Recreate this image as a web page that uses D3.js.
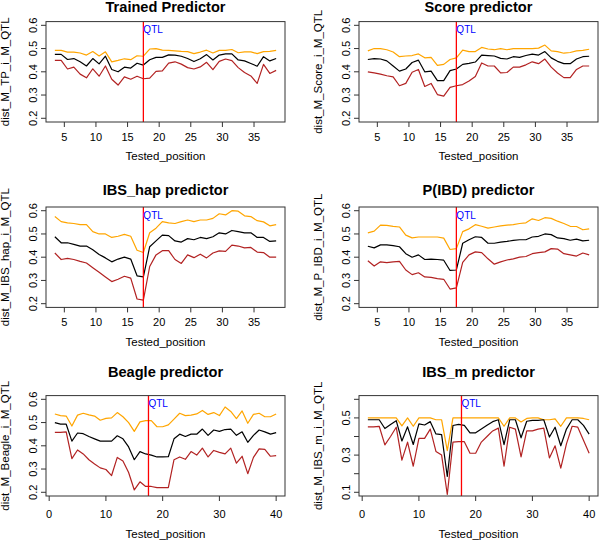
<!DOCTYPE html>
<html lang="en">
<head>
  <meta charset="UTF-8" />
  <title>Predictor distances</title>
  <style>
    body { margin: 0; background: #fff; }
    svg { display: block; font-family: "Liberation Sans", Arial, sans-serif; }
    .title { font-weight: bold; font-size: 14.6px; }
    .tick text { font-size: 11px; }
    .axlab { font-size: 11.5px; }
  </style>
</head>
<body>
  <svg width="600" height="541"></svg>

  <script src="https://d3js.org/d3.v7.min.js"></script>
  <script>
    // positions tested (top rows use 3.5..38.5, bottom row 1..40)
    const posMid = d3.range(3.5, 39, 1);
    const posInt = d3.range(1, 41, 1);
    const qtlPos = 17.5;

    const titles = ["Trained Predictor", "Score predictor", "IBS_hap predictor",
                    "P(IBD) predictor", "Beagle predictor", "IBS_m predictor"];
    const yLabels = ["dist_M_TP_i_M_QTL", "dist_M_Score_i_M_QTL", "dist_M_IBS_hap_i_M_QTL",
                     "dist_M_P_IBD_i_M_QTL", "dist_M_Beagle_i_M_QTL", "dist_M_IBS_m_i_M_QTL"];

    // upper (orange), mean (black), lower (red)
    const tpUpper = [.492,.492,.485,.485,.481,.472,.487,.468,.486,.443,.449,.456,.452,.469,.467,.498,.5,.493,.492,.49,.488,.487,.478,.485,.493,.481,.492,.492,.496,.482,.486,.486,.478,.487,.488,.492];
    const tpMean  = [.475,.475,.453,.457,.443,.425,.457,.434,.467,.41,.4,.42,.416,.437,.429,.452,.462,.462,.473,.472,.467,.457,.444,.456,.474,.451,.472,.477,.477,.451,.447,.436,.424,.465,.447,.457];
    const tpLower = [.449,.449,.412,.42,.39,.374,.413,.381,.425,.368,.343,.378,.368,.381,.37,.373,.402,.404,.437,.443,.433,.418,.412,.421,.441,.409,.445,.455,.448,.418,.397,.382,.35,.432,.393,.406];

    const scoreUpper = [.49,.5,.5,.495,.485,.465,.468,.47,.477,.46,.462,.428,.432,.453,.46,.493,.487,.487,.505,.498,.495,.5,.495,.5,.5,.5,.5,.502,.515,.49,.487,.48,.483,.49,.492,.497];
    const scoreMean  = [.453,.457,.455,.447,.425,.403,.412,.44,.45,.4,.403,.362,.362,.405,.412,.432,.436,.442,.472,.47,.468,.458,.455,.465,.462,.47,.476,.472,.487,.46,.445,.435,.435,.455,.465,.467];
    const scoreLower = [.4,.395,.39,.383,.378,.34,.35,.398,.41,.337,.35,.302,.295,.333,.34,.345,.36,.38,.438,.425,.425,.395,.397,.42,.42,.43,.443,.435,.455,.42,.395,.375,.375,.41,.425,.425];

    const hapUpper = [.575,.553,.548,.545,.54,.54,.51,.5,.5,.485,.49,.498,.49,.43,.42,.505,.525,.553,.548,.545,.553,.56,.553,.56,.56,.567,.587,.582,.6,.598,.578,.575,.557,.552,.535,.54];
    const hapMean  = [.488,.462,.462,.455,.448,.448,.432,.412,.397,.38,.392,.4,.392,.32,.315,.445,.47,.495,.493,.47,.465,.48,.475,.485,.48,.488,.505,.5,.515,.51,.505,.505,.485,.485,.468,.47];
    const hapLower = [.418,.39,.395,.39,.382,.375,.355,.335,.315,.295,.305,.318,.31,.22,.215,.36,.41,.428,.428,.39,.373,.41,.398,.413,.397,.418,.427,.425,.452,.448,.44,.442,.422,.42,.4,.4];

    const ibdUpper = [.505,.512,.538,.537,.533,.53,.495,.483,.487,.487,.487,.487,.482,.433,.437,.51,.522,.54,.533,.525,.53,.535,.538,.54,.545,.548,.565,.558,.57,.567,.555,.545,.533,.532,.518,.522];
    const ibdMean  = [.447,.44,.453,.453,.45,.445,.415,.4,.41,.39,.392,.39,.387,.343,.345,.46,.475,.488,.485,.46,.46,.465,.468,.472,.475,.475,.487,.49,.5,.497,.483,.48,.473,.478,.47,.473];
    const ibdLower = [.385,.362,.38,.377,.38,.382,.345,.325,.333,.315,.313,.308,.305,.263,.268,.378,.41,.423,.42,.393,.37,.38,.388,.393,.4,.403,.415,.42,.423,.437,.435,.415,.41,.405,.418,.41];

    const beagleUpper = [.537,.53,.528,.485,.532,.54,.533,.528,.51,.518,.52,.543,.525,.5,.462,.503,.508,.508,.482,.482,.49,.515,.54,.53,.532,.537,.552,.535,.543,.53,.567,.548,.517,.55,.497,.535,.54,.525,.525,.537];
    const beagleMean  = [.5,.493,.493,.42,.455,.452,.44,.43,.42,.42,.42,.443,.43,.395,.34,.375,.365,.36,.352,.352,.353,.43,.45,.44,.45,.45,.472,.445,.468,.462,.47,.472,.445,.46,.415,.445,.468,.46,.45,.457];
    const beagleLower = [.458,.458,.46,.345,.382,.365,.34,.322,.305,.298,.272,.35,.335,.285,.21,.245,.225,.225,.22,.22,.22,.34,.352,.342,.375,.36,.39,.352,.38,.372,.365,.39,.325,.355,.28,.35,.387,.385,.355,.358];

    const ibsmUpper = [.5,.5,.5,.5,.5,.5,.457,.5,.455,.5,.5,.5,.49,.49,.324,.5,.5,.5,.5,.5,.5,.5,.5,.5,.455,.5,.5,.478,.497,.5,.5,.49,.49,.495,.455,.5,.5,.5,.497,.49];
    const ibsmMean  = [.49,.49,.49,.443,.465,.485,.376,.452,.357,.468,.462,.48,.414,.41,.185,.459,.465,.46,.42,.42,.44,.46,.48,.49,.356,.49,.49,.393,.482,.487,.487,.49,.397,.45,.35,.44,.49,.49,.46,.413];
    const ibsmLower = [.452,.452,.455,.355,.4,.45,.273,.37,.24,.39,.39,.44,.32,.3,.088,.37,.372,.372,.31,.31,.37,.4,.43,.445,.24,.45,.44,.29,.43,.43,.44,.445,.285,.35,.23,.36,.455,.45,.38,.31];

    const panels = [
      { pos: posMid, series: [tpUpper, tpMean, tpLower], yDom: [0.2, 0.6], yTicks: [0.2, 0.3, 0.4, 0.5, 0.6], yLab: [0.2, 0.3, 0.4, 0.5, 0.6], xTicks: [5, 10, 15, 20, 25, 30, 35] },
      { pos: posMid, series: [scoreUpper, scoreMean, scoreLower], yDom: [0.2, 0.6], yTicks: [0.2, 0.3, 0.4, 0.5, 0.6], yLab: [0.2, 0.3, 0.4, 0.5, 0.6], xTicks: [5, 10, 15, 20, 25, 30, 35] },
      { pos: posMid, series: [hapUpper, hapMean, hapLower], yDom: [0.2, 0.6], yTicks: [0.2, 0.3, 0.4, 0.5, 0.6], yLab: [0.2, 0.3, 0.4, 0.5, 0.6], xTicks: [5, 10, 15, 20, 25, 30, 35] },
      { pos: posMid, series: [ibdUpper, ibdMean, ibdLower], yDom: [0.2, 0.6], yTicks: [0.2, 0.3, 0.4, 0.5, 0.6], yLab: [0.2, 0.3, 0.4, 0.5, 0.6], xTicks: [5, 10, 15, 20, 25, 30, 35] },
      { pos: posInt, series: [beagleUpper, beagleMean, beagleLower], yDom: [0.2, 0.6], yTicks: [0.2, 0.3, 0.4, 0.5, 0.6], yLab: [0.2, 0.3, 0.4, 0.5, 0.6], xTicks: [0, 10, 20, 30, 40] },
      { pos: posInt, series: [ibsmUpper, ibsmMean, ibsmLower], yDom: [0.1, 0.6], yTicks: [0.1, 0.2, 0.3, 0.4, 0.5, 0.6], yLab: [0.1, 0.3, 0.5], xTicks: [0, 10, 20, 30, 40] }
    ];

    const colors = ["orange", "black", "#b22222"];

    const colLeft = [46, 359];
    const boxW = 239;
    const rowTop = [21.6, 207, 395.6];
    const boxH = 100.4;
    const titleY = [11.7, 195, 376.7];
    const tickLabOff = [15, 15, 18];
    const xTitleOff = [34, 35, 38];

    const svg = d3.select("svg");

    panels.forEach((p, k) => {
      const r = Math.floor(k / 2), c = k % 2;
      const left = colLeft[c], top = rowTop[r];
      const g = svg.append("g").attr("transform", `translate(${left},${top})`);

      // R style 4% padding around the data range
      const xr = d3.extent(p.pos), xp = (xr[1] - xr[0]) * 0.04;
      const yp = (p.yDom[1] - p.yDom[0]) * 0.04;
      const x = d3.scaleLinear().domain([xr[0] - xp, xr[1] + xp]).range([0, boxW]);
      const y = d3.scaleLinear().domain([p.yDom[0] - yp, p.yDom[1] + yp]).range([boxH, 0]);

      const line = d3.line().x((d, i) => x(p.pos[i])).y(d => y(d));

      p.series.forEach((s, j) => {
        g.append("path")
          .datum(s)
          .attr("d", line)
          .attr("fill", "none")
          .attr("stroke", colors[j])
          .attr("stroke-width", 1.2)
          .attr("stroke-linejoin", "round");
      });

      // QTL marker
      g.append("line")
        .attr("x1", x(qtlPos)).attr("x2", x(qtlPos))
        .attr("y1", 0).attr("y2", boxH)
        .attr("stroke", "red").attr("stroke-width", 1.3);
      g.append("text")
        .attr("x", x(qtlPos)).attr("y", y(0.58))
        .attr("dominant-baseline", "central")
        .attr("fill", "blue")
        .style("font-size", "10px")
        .text("QTL");

      g.append("rect")
        .attr("width", boxW).attr("height", boxH)
        .attr("fill", "none").attr("stroke", "#333").attr("stroke-width", 1);

      // x axis
      const xa = g.append("g").attr("class", "tick").attr("transform", `translate(0,${boxH})`);
      xa.selectAll("line").data(p.xTicks).join("line")
        .attr("x1", d => x(d)).attr("x2", d => x(d)).attr("y1", 0).attr("y2", 5)
        .attr("stroke", "#333");
      xa.selectAll("text").data(p.xTicks).join("text")
        .attr("x", d => x(d)).attr("y", tickLabOff[r])
        .attr("text-anchor", "middle").attr("dominant-baseline", "central")
        .text(d => d);

      // y axis
      const ya = g.append("g").attr("class", "tick");
      ya.selectAll("line").data(p.yTicks).join("line")
        .attr("x1", -5).attr("x2", 0).attr("y1", d => y(d)).attr("y2", d => y(d))
        .attr("stroke", "#333");
      ya.selectAll("text").data(p.yLab).join("text")
        .attr("transform", d => `translate(-12.7,${y(d)}) rotate(-90)`)
        .attr("text-anchor", "middle").attr("dominant-baseline", "central")
        .text(d => d3.format(".1f")(d));

      g.append("text")
        .attr("class", "axlab")
        .attr("x", boxW / 2).attr("y", boxH + xTitleOff[r])
        .attr("text-anchor", "middle").attr("dominant-baseline", "central")
        .text("Tested_position");

      g.append("text")
        .attr("class", "axlab")
        .attr("transform", `translate(-41,${boxH / 2}) rotate(-90)`)
        .attr("text-anchor", "middle").attr("dominant-baseline", "central")
        .text(yLabels[k]);

      svg.append("text")
        .attr("class", "title")
        .attr("x", left + boxW / 2).attr("y", titleY[r])
        .attr("text-anchor", "middle")
        .text(titles[k]);
    });
  </script>
</body>
</html>
